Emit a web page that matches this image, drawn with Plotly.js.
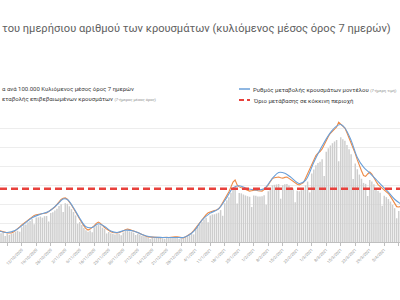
<!DOCTYPE html>
<html>
<head>
<meta charset="utf-8">
<script src="https://cdn.plot.ly/plotly-3.0.1.min.js"></script>
<style>html,body{margin:0;padding:0;background:#fff;}#chart{width:400px;height:300px;}</style>
</head>
<body>
<div id="chart"></div>
<script>
// ---- DATA ----
const firstDay = -4; // day index of first value (0 = first tick date)
const dailyCases = [
5.2,4.6,4.9,3.2,4.3,3.8,4.2,4.6,5.5,5.9,5.4,7.8,8.9,9.2,10.4,11.0,12.1,9.3,12.9,13.0,
13.4,12.8,13.6,13.7,10.8,15.2,15.6,16.6,17.5,19.0,19.9,15.8,20.4,20.1,18.8,17.3,15.8,14.0,9.6,10.5,
8.9,7.4,6.2,5.4,6.0,5.1,7.8,8.6,9.2,8.8,7.5,6.8,4.5,5.3,4.6,4.4,4.0,4.3,4.4,3.6,
5.0,5.8,6.0,5.6,5.4,4.9,3.7,4.3,3.9,3.3,3.0,2.6,2.4,1.6,2.2,2.0,2.3,2.1,2.2,2.0,
1.7,2.1,2.2,2.4,2.2,2.5,2.3,1.6,1.9,1.9,2.3,2.8,3.5,4.3,4.0,6.6,7.9,9.4,10.6,11.8,
12.8,10.4,14.0,14.5,14.6,15.0,15.4,16.8,13.8,20.4,22.0,23.6,25.9,28.0,28.9,20.3,25.8,25.6,25.0,24.5,
24.1,23.8,18.4,24.5,24.3,24.0,23.9,24.1,24.6,19.6,26.7,28.4,29.8,30.1,30.3,30.5,22.8,29.9,30.4,30.5,
29.7,29.0,28.2,20.9,27.0,26.7,27.3,27.7,29.8,31.8,26.1,36.0,38.2,40.4,41.6,42.3,43.5,34.7,47.5,49.3,
50.8,52.0,52.9,53.7,42.5,55.1,54.1,53.3,51.0,48.8,46.2,33.1,41.3,38.3,35.5,33.3,31.1,30.6,24.2,32.6,
31.8,30.4,28.4,26.8,25.9,19.1,24.4,23.6,22.6,21.3,19.5,17.8,12.5,16.3,16.7
];
const changeRate = [
6.0,5.6,5.3,5.0,4.8,4.7,4.7,5.2,6.0,7.0,8.0,9.0,9.8,10.6,11.6,12.5,13.4,14.0,14.3,14.6,
14.8,15.0,15.1,15.3,16.0,16.8,17.6,18.4,19.8,21.2,22.4,23.0,23.2,22.5,21.2,19.5,17.6,16.0,14.0,12.0,
10.0,8.5,7.0,6.3,6.8,7.6,8.6,9.8,10.5,9.8,8.6,7.6,6.8,6.0,5.4,5.0,4.7,4.8,5.0,5.3,
5.8,6.5,6.8,6.5,6.0,5.7,5.4,5.0,4.4,3.8,3.4,3.0,2.7,2.6,2.5,2.4,2.6,2.5,2.3,2.4,
2.6,2.5,2.4,2.6,2.9,2.8,2.7,2.4,2.2,2.2,2.6,3.2,4.0,4.8,6.0,7.4,8.9,10.5,12.0,13.2,
14.4,15.4,15.9,16.2,16.5,16.8,17.5,18.8,20.6,22.8,24.7,26.5,29.0,31.5,32.6,30.0,29.0,28.6,28.2,27.6,
27.0,26.8,27.0,27.4,27.4,27.0,26.8,26.8,27.6,28.8,30.0,31.8,33.5,33.8,34.0,34.2,33.8,33.6,34.0,34.2,
33.5,32.6,31.8,31.0,30.4,30.0,30.6,31.2,33.5,35.8,38.5,40.5,43.0,45.5,46.8,47.6,49.0,51.3,53.5,55.5,
57.2,58.5,59.6,60.5,63.0,62.1,61.0,60.0,57.5,55.0,52.0,49.2,46.5,43.2,40.0,37.5,35.0,34.5,35.8,36.8,
35.8,34.2,32.0,30.2,29.2,28.3,27.5,26.6,25.5,24.0,22.0,20.0,18.6,18.4,18.8
];
const modelDays = [-4,0,4,8,12,16,20,24,27,29,32,35,38,41,44,47,50,53,57,61,65,69,75,81,85,88,91,94,98,102,106,109,112,116,120,124,128,131,134,137,141,144,148,152,156,159,161,163,166,169,172,175,178,181,184,187,190];
const modelRate = [5.8,5.0,6.2,9.4,12.8,14.6,16.0,19.6,22.6,22.4,18.0,12.5,8.0,7.6,9.6,8.2,5.8,5.0,6.2,5.8,4.0,2.8,2.4,2.4,2.4,3.8,6.8,11.5,15.2,17.4,23.5,28.5,29.6,28.0,27.4,28.0,33.5,36.6,36.2,34.0,30.8,32.5,42.0,50.5,57.6,61.0,61.8,60.0,53.5,44.5,39.4,36.3,33.0,29.5,26.2,22.5,20.0];
const redThreshold = 28;
const tickLabels = ["5/10/2020","12/10/2020","19/10/2020","26/10/2020","2/11/2020","9/11/2020","16/11/2020","23/11/2020","30/11/2020","7/12/2020","14/12/2020","21/12/2020","28/12/2020","4/1/2021","11/1/2021","18/1/2021","25/1/2021","1/2/2021","8/2/2021","15/2/2021","22/2/2021","1/3/2021","8/3/2021","15/3/2021","22/3/2021","29/3/2021","5/4/2021","12/4/2021"];

// ---- BUILD ----
const days = dailyCases.map((_, i) => firstDay + i);
const tickVals = tickLabels.map((_, i) => i * 7);
const xRange = [-3.5, 189.6];

const W = 400, H = 300, T = 109, B = 58;
const plotH = H - T - B;
const py = p => (H - B - p) / plotH;   // pixel y -> paper y
const px = p => p / W;                  // pixel x -> paper x

const traces = [
  {type:'bar', x:days, y:dailyCases, name:'Κρούσματα ανά 100.000',
   marker:{color:'#cdcdcd'}, hoverinfo:'skip'},
  {type:'scatter', mode:'lines', x:days, y:changeRate, name:'Ρυθμός μεταβολής επιβεβαιωμένων κρουσμάτων',
   line:{color:'#EE8A45', width:1.1}},
  {type:'scatter', mode:'lines', x:modelDays, y:modelRate, name:'Ρυθμός μεταβολής κρουσμάτων μοντέλου',
   line:{color:'#6A9FD8', width:1.1, shape:'spline', smoothing:1}},
  {type:'scatter', mode:'lines', x:xRange, y:[redThreshold, redThreshold], name:'Όριο μετάβασης σε κόκκινη περιοχή',
   line:{color:'#E8413C', width:2.4, dash:'7px,4px'}}
];

const legFont = {family:'Roboto, Arial, sans-serif', size:6, color:'#404040'};
const layout = {
  width:W, height:H,
  margin:{l:0, r:0, t:T, b:B, pad:0},
  paper_bgcolor:'#fff', plot_bgcolor:'#fff',
  showlegend:false,
  bargap:0.3,
  font:{family:'Roboto, Arial, sans-serif'},
  title:{text:'του ημερήσιου αριθμού των κρουσμάτων (κυλιόμενος μέσος όρος 7 ημερών)',
         x:0.005, xanchor:'left', xref:'paper', y:1-28/H, yanchor:'middle',
         font:{family:'Roboto, Arial, sans-serif', size:11.1, color:'#606060'}},
  xaxis:{range:xRange, tickmode:'array', tickvals:tickVals, ticktext:tickLabels,
         tickangle:-45, tickfont:{size:4, color:'#8a8a8a'},
         ticks:'outside', ticklen:3, tickcolor:'#bfbfbf',
         showline:true, linecolor:'#bfbfbf', linewidth:1,
         showgrid:false, zeroline:false, fixedrange:true},
  yaxis:{range:[0,70], dtick:10, showticklabels:false, gridcolor:'#ededed', gridwidth:1,
         zeroline:false, showline:false, fixedrange:true},
  shapes:[
    {type:'line', xref:'paper', yref:'paper', x0:px(239), x1:px(250), y0:py(89), y1:py(89),
     line:{color:'#6A9FD8', width:1.5}},
    {type:'line', xref:'paper', yref:'paper', x0:px(239), x1:px(250), y0:py(100), y1:py(100),
     line:{color:'#E8413C', width:2, dash:'5px,3px'}}
  ],
  annotations:[
    {xref:'paper', yref:'paper', x:0, y:py(88), xanchor:'left', yanchor:'middle', showarrow:false,
     text:'α ανά 100.000 Κυλιόμενος μέσος όρος 7 ημερών', font:legFont},
    {xref:'paper', yref:'paper', x:0, y:py(98), xanchor:'left', yanchor:'middle', showarrow:false,
     text:'εταβολής επιβεβαιωμένων κρουσμάτων <span style="font-size:4px;color:#8c8c8c">(7-ήμερος μέσος όρος)</span>', font:legFont},
    {xref:'paper', yref:'paper', x:px(251), y:py(89), xanchor:'left', yanchor:'middle', showarrow:false,
     text:'Ρυθμός μεταβολής κρουσμάτων μοντέλου <span style="font-size:4px;color:#8c8c8c">(7-ήμερη τιμή)</span>', font:legFont},
    {xref:'paper', yref:'paper', x:px(251), y:py(100), xanchor:'left', yanchor:'middle', showarrow:false,
     text:'Όριο μετάβασης σε κόκκινη περιοχή', font:legFont}
  ]
};

Plotly.newPlot('chart', traces, layout, {displayModeBar:false, staticPlot:true});
</script>
</body>
</html>
